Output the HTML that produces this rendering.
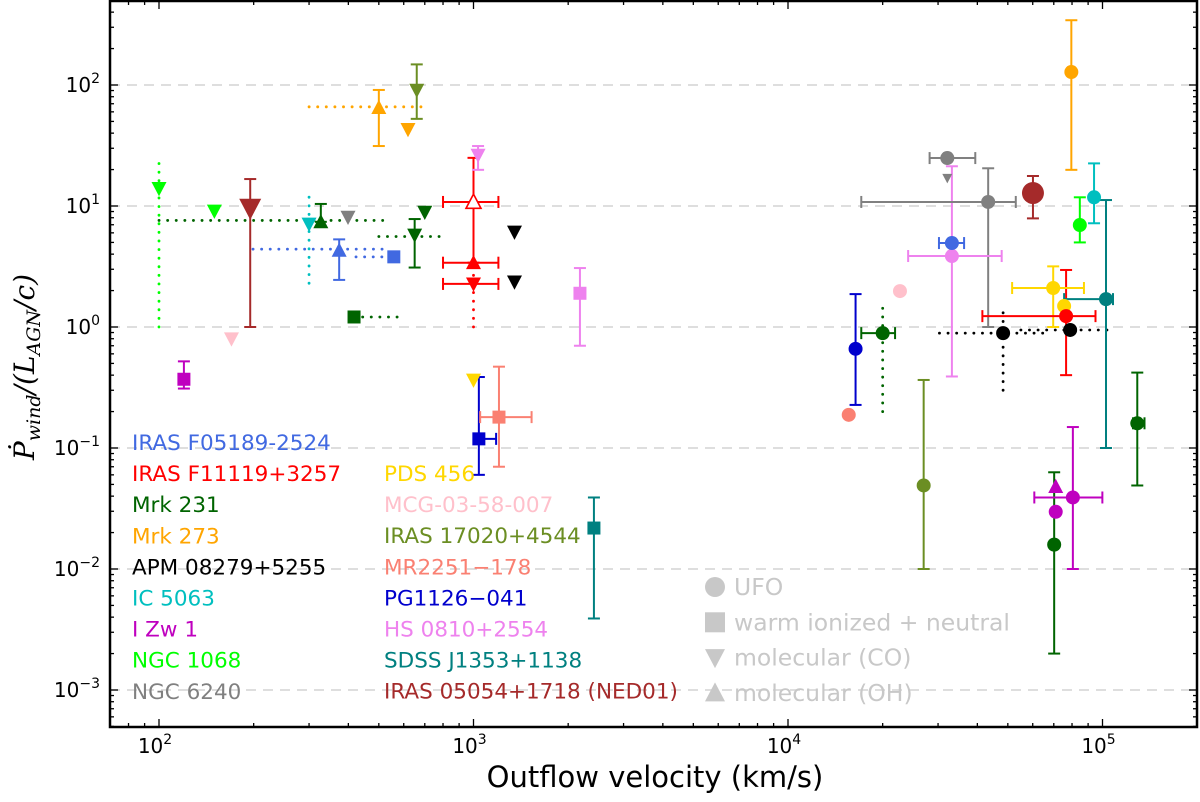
<!DOCTYPE html>
<html><head><meta charset="utf-8"><style>
html,body{margin:0;padding:0;background:#fff;}
svg{display:block;font-family:"DejaVu Sans","Liberation Sans",sans-serif;}
</style></head><body>
<svg id="chart" width="1200" height="802" viewBox="0 0 1200 802" xmlns="http://www.w3.org/2000/svg">
<g id="grid"></g>
<g id="marks"></g>
<g id="axes"></g>
<g id="legend"></g>
<text x="655" y="787" text-anchor="middle" font-size="29">Outflow velocity (km/s)</text>
<text transform="translate(34,367) rotate(-90)" text-anchor="middle" font-family="DejaVu Serif, Liberation Serif, serif" font-style="italic" font-size="28">Ṗ<tspan font-size="19" dy="6">wind</tspan><tspan dy="-6">/(L</tspan><tspan font-size="19" dy="6">AGN</tspan><tspan dy="-6">/c)</tspan></text>
</svg>
<script>
const NS='http://www.w3.org/2000/svg';
// data
const ptV=[100,150,170,195,300,327,399,374,558,500,619,660,650,700,417,1000,1000,1000,1034,1350,1350,2180,120,1000,1040,1205,2415,15600,27000,70200,71000,71000,80500,129000,102600,16400,20000,22700,32100,32100,33200,33200,43300,60100,79600,94000,84700,69700,75500,76600,48300,78900];
const ptP=[14,9.1,0.8,9.6,7.1,7.4,8.1,4.3,3.8,65,43,90.7,5.76,8.9,1.21,10.8,3.4,2.27,26.3,6.1,2.36,1.9,0.37,0.365,0.119,0.18,0.0218,0.188,0.049,0.0159,0.048,0.0297,0.039,0.16,1.70,0.66,0.89,1.98,24.9,17,3.86,4.94,10.8,12.8,128,11.8,6.96,2.1,1.49,1.23,0.89,0.945];
const ptShape=['v','v','v','v','v','^','v','^','s','^','v','v','v','v','s','^o','^','v','v','v','v','s','s','v','s','s','s','o','o','o','^','o','o','o','o','o','o','o','o','v','o','o','o','o','o','o','o','o','o','o','o','o'];
const ptColor=['#00ff00','#00ff00','#ffc0cb','#a52a2a','#00bfbf','#006400','#808080','#4169e1','#4169e1','#ffa500','#ffa500','#6b8e23','#006400','#006400','#006400','#ff0000','#ff0000','#ff0000','#ee82ee','#000000','#000000','#ee82ee','#bf00bf','#ffd700','#0000cd','#fa8072','#008080','#fa8072','#6b8e23','#006400','#bf00bf','#bf00bf','#bf00bf','#006400','#008080','#0000cd','#006400','#ffc0cb','#808080','#808080','#ee82ee','#4169e1','#808080','#a52a2a','#ffa500','#00bfbf','#00ff00','#ffd700','#ffd700','#ff0000','#000000','#000000'];
const ptBig=[3,43];
const ptSmall=[39];
// y error bars: [pointIndex, low, high]
const errY=[[3,1.0,16.7],[5,7.4,10.4],[7,2.45,5.3],[9,31.3,91],[11,52.5,148],[12,3.1,7.8],[15,3.4,25],[18,19.9,31.3],[21,0.70,3.07],[22,0.31,0.52],[24,0.06,0.386],[25,0.07,0.47],[26,0.0039,0.039],[28,0.01,0.365],[29,0.002,0.063],[32,0.01,0.149],[33,0.049,0.42],[34,0.1,11.2],[35,0.227,1.87],[40,0.39,21.3],[42,1.0,20.5],[43,7.9,17.7],[44,19.9,343],[45,7.2,22.5],[46,5.0,11.8],[47,1.0,3.17],[49,0.4,2.96]];
// x error bars: [pointIndex, low, high]
const errX=[[15,800,1200],[16,800,1200],[17,800,1200],[24,1040,1180],[25,1050,1530],[32,60700,99900],[33,125000,136000],[34,75500,108000],[36,17100,21900],[38,28200,39400],[40,24100,47800],[41,30200,36300],[42,17100,53000],[47,51600,87300],[49,41500,95000]];
// dotted horizontal ranges: [v1, v2, P, color]
const dotH=[[100,527,7.6,'#006400'],[199,542,4.4,'#4169e1'],[423,558,3.8,'#4169e1'],[300,697,66,'#ffa500'],[500,800,5.6,'#006400'],[417,575,1.21,'#006400'],[30300,66500,0.89,'#000000'],[55000,104000,0.945,'#000000']];
// dotted vertical ranges: [v, P1, P2, color]
const dotVert=[[100,1.0,24,'#00ff00'],[300,2.3,11.9,'#00bfbf'],[1000,1.0,3.4,'#ff0000'],[20000,0.2,1.49,'#006400'],[48300,0.30,1.33,'#000000']];
const legNames1=['IRAS F05189-2524','IRAS F11119+3257','Mrk 231','Mrk 273','APM 08279+5255','IC 5063','I Zw 1','NGC 1068','NGC 6240'];
const legColors1=['#4169e1','#ff0000','#006400','#ffa500','#000000','#00bfbf','#bf00bf','#00ff00','#808080'];
const legNames2=['PDS 456','MCG-03-58-007','IRAS 17020+4544','MR2251\u2212178','PG1126\u2212041','HS 0810+2554','SDSS J1353+1138','IRAS 05054+1718 (NED01)'];
const legColors2=['#ffd700','#ffc0cb','#6b8e23','#fa8072','#0000cd','#ee82ee','#008080','#a52a2a'];
const shapeNames=['UFO','warm ionized + neutral','molecular (CO)','molecular (OH)'];
const shapeKeys=['o','s','v','^'];
const xTickExp=[2,3,4,5];
const yTickExp=[-3,-2,-1,0,1,2];

const X=v=>159+314.5*(Math.log10(v)-2);
const Y=p=>327-121*Math.log10(p);
const L=110,R=1197,T=1,B=727;

function mk(tag,attrs,parent){const e=document.createElementNS(NS,tag);for(const k in attrs)e.setAttribute(k,attrs[k]);parent.appendChild(e);return e;}
const grid=document.getElementById('grid'),marks=document.getElementById('marks'),axes=document.getElementById('axes'),legend=document.getElementById('legend');

yTickExp.forEach(e=>{const l=mk('line',{x1:L,x2:R,y1:Y(Math.pow(10,e)),y2:Y(Math.pow(10,e)),stroke:'#d3d3d3','stroke-width':1.6,'stroke-dasharray':'10,7'},grid);

});

function marker(shape,x,y,s,color,parent){
  let e;
  if(shape==='o'){e=mk('circle',{cx:x,cy:y,r:s,fill:color},parent);}
  else if(shape==='s'){e=mk('rect',{x:x-s,y:y-s,width:2*s,height:2*s,fill:color},parent);}
  else if(shape==='v'){e=mk('polygon',{points:`${x-s},${y-s*0.85} ${x+s},${y-s*0.85} ${x},${y+s*1.05}`,fill:color},parent);}
  else if(shape==='^'){e=mk('polygon',{points:`${x-s},${y+s*0.85} ${x+s},${y+s*0.85} ${x},${y-s*1.05}`,fill:color},parent);}
  else {e=mk('polygon',{points:`${x-s},${y+s*0.85} ${x+s},${y+s*0.85} ${x},${y-s*1.05}`,fill:'#fff',stroke:color,'stroke-width':1.6},parent);}
  return e;
}

dotH.forEach(d=>{const l=mk('line',{x1:X(d[0]),x2:X(d[1]),y1:Y(d[2]),y2:Y(d[2]),stroke:d[3],'stroke-width':2.8,'stroke-dasharray':'0.1,8.5','stroke-linecap':'round'},marks);

});
dotVert.forEach(d=>{const l=mk('line',{x1:X(d[0]),x2:X(d[0]),y1:Y(d[1]),y2:Y(d[2]),stroke:d[3],'stroke-width':2.8,'stroke-dasharray':'0.1,8.5','stroke-linecap':'round'},marks);

});
errY.forEach(d=>{const i=d[0],x=X(ptV[i]),c=ptColor[i];const g=mk('g',{stroke:c,'stroke-width':2},marks);


mk('line',{x1:x,x2:x,y1:Y(d[1]),y2:Y(d[2])},g);mk('line',{x1:x-6,x2:x+6,y1:Y(d[1]),y2:Y(d[1])},g);mk('line',{x1:x-6,x2:x+6,y1:Y(d[2]),y2:Y(d[2])},g);});
errX.forEach(d=>{const i=d[0],y=Y(ptP[i]),c=ptColor[i];const g=mk('g',{stroke:c,'stroke-width':2},marks);


mk('line',{x1:X(d[1]),x2:X(d[2]),y1:y,y2:y},g);mk('line',{x1:X(d[1]),x2:X(d[1]),y1:y-6,y2:y+6},g);mk('line',{x1:X(d[2]),x2:X(d[2]),y1:y-6,y2:y+6},g);});
ptV.forEach((v,i)=>{let s=ptShape[i]==='o'?7:(ptShape[i]==='s'?6.5:7.5);if(ptBig.includes(i))s=11;if(ptSmall.includes(i))s=5;
const e=marker(ptShape[i],X(v),Y(ptP[i]),s,ptColor[i],marks);

});

// axes frame & ticks
const fr=mk('rect',{x:L,y:T,width:R-L,height:B-T,fill:'none',stroke:'#000','stroke-width':2.5},axes);


for(let e=1;e<=5;e++){for(let m=1;m<=9;m++){const v=m*Math.pow(10,e),x=X(v);if(x<L||x>R)continue;const len=m===1?8:4;
mk('line',{x1:x,x2:x,y1:B,y2:B-len,stroke:'#000','stroke-width':1.3},axes);mk('line',{x1:x,x2:x,y1:T,y2:T+len,stroke:'#000','stroke-width':1.3},axes);}}
for(let e=-4;e<=2;e++){for(let m=1;m<=9;m++){const p=m*Math.pow(10,e),y=Y(p);if(y<T||y>B)continue;const len=m===1?8:4;
mk('line',{x1:L,x2:L+len,y1:y,y2:y,stroke:'#000','stroke-width':1.3},axes);mk('line',{x1:R,x2:R-len,y1:y,y2:y,stroke:'#000','stroke-width':1.3},axes);}}
xTickExp.forEach(e=>{const t=mk('text',{x:X(Math.pow(10,e))-4,y:753,'text-anchor':'middle','font-size':20},axes);


t.textContent='10';const s=mk('tspan',{'font-size':14,dy:-9},t);s.textContent=String(e);});
yTickExp.forEach(e=>{const t=mk('text',{x:100,y:Y(Math.pow(10,e))+7,'text-anchor':'end','font-size':20},axes);


t.textContent='10';const s=mk('tspan',{'font-size':14,dy:-9},t);s.textContent=e<0?'\u2212'+(-e):String(e);});

// legend
legNames1.forEach((n,i)=>{const t=mk('text',{x:132,y:450+i*31.1,fill:legColors1[i],'font-size':21.5},legend);


t.textContent=n;});
legNames2.forEach((n,i)=>{const t=mk('text',{x:384,y:481+i*31.1,fill:legColors2[i],'font-size':21.5},legend);


t.textContent=n;});
shapeNames.forEach((n,i)=>{const y=587+i*35.3;const m=marker(shapeKeys[i],715,y,10,'#c8c8c8',legend);


const t=mk('text',{x:734,y:y+8,fill:'#c8c8c8','font-size':23.5},legend);


t.textContent=n;});
</script>
</body></html>
